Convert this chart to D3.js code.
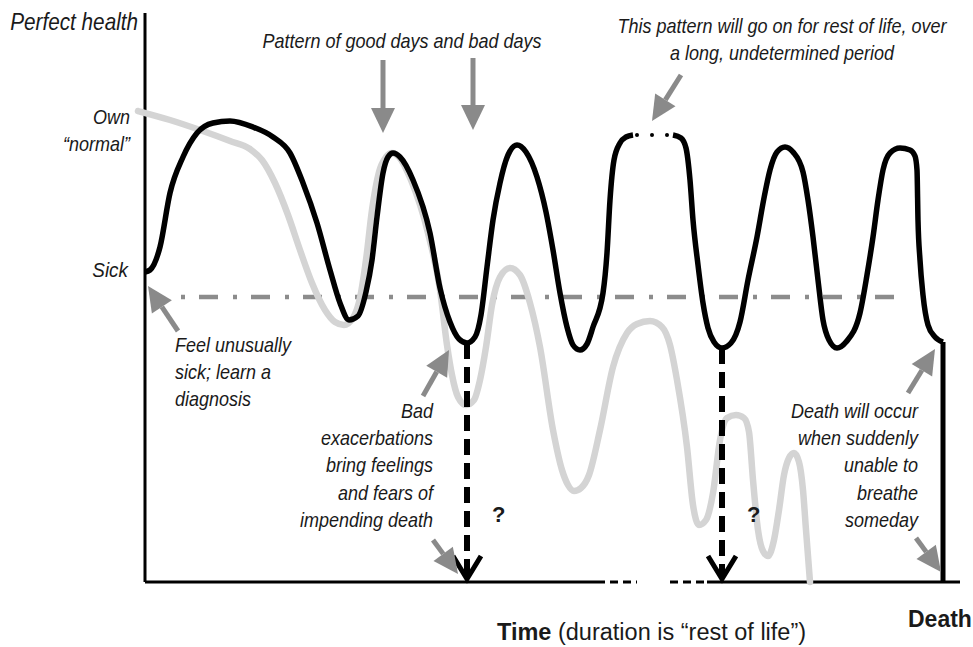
<!DOCTYPE html>
<html>
<head>
<script src="https://d3js.org/d3.v7.min.js"></script>
<style>
    body { margin: 0; background: #fff; }
    text { font-family: "Liberation Sans", Arial, sans-serif; fill: #1a1a1a; }
</style>
</head>
<body>
<svg width="973" height="647"></svg>
<script>
// time runs 0 .. 815 (until death), health runs 0 (death) .. 560 (perfect health)

// black line: the pattern of good days and bad days (two pieces, with a gap)
const goodBadA = [
    [0, 310], [5, 312], [15, 335], [25, 389], [38, 425], [52, 449], [68, 459], [85, 461],
    [108, 455], [128, 445], [145, 429], [158, 399], [172, 359], [185, 312], [195, 279],
    [204, 262], [213, 266], [221, 290], [227, 322], [232, 365], [238, 409], [243, 425],
    [248, 429], [255, 425], [268, 402], [285, 349], [295, 294], [305, 260], [314, 243],
    [322, 239], [330, 245], [336, 267], [342, 315], [348, 362], [355, 399], [363, 427],
    [372, 437], [381, 430], [392, 405], [401, 370], [408, 332], [415, 289], [422, 255],
    [428, 237], [435, 232], [442, 238], [448, 255], [458, 289], [462, 329], [465, 382],
    [469, 422], [475, 439], [481, 445], [488, 447]
];
const goodBadB = [
    [528, 447], [536, 444], [541, 434], [545, 402], [548, 362], [553, 317], [558, 279],
    [563, 254], [569, 240], [577, 234], [586, 239], [595, 260], [603, 302], [612, 345],
    [619, 384], [625, 412], [632, 430], [640, 435], [648, 430], [658, 410], [663, 382],
    [668, 345], [673, 302], [678, 262], [684, 242], [692, 234], [701, 240], [715, 269],
    [722, 307], [728, 345], [733, 382], [738, 412], [745, 429], [755, 434], [765, 432],
    [770, 426], [772, 412], [773, 362], [775, 322], [778, 287], [783, 257], [790, 245],
    [798, 240]
];
const gapDots = [492, 507, 522];
const gapLevel = 447;

// gray line: a declining course from own "normal"
const decline = [
    [-7, 471], [25, 462], [55, 452], [85, 441], [105, 433], [117, 422], [130, 399],
    [143, 367], [155, 332], [167, 299], [180, 272], [190, 260], [199, 257], [208, 264],
    [215, 284], [221, 322], [227, 372], [234, 410], [241, 425], [247, 429], [254, 425],
    [266, 402], [283, 349], [295, 292], [302, 237], [307, 207], [313, 185], [321, 177],
    [329, 182], [335, 202], [341, 235], [347, 277], [355, 305], [365, 314], [375, 307],
    [385, 279], [395, 235], [408, 152], [417, 112], [423, 97], [429, 91], [436, 94],
    [444, 107], [455, 152], [468, 215], [482, 249], [492, 258], [505, 261], [517, 255],
    [525, 237], [532, 202], [542, 135], [548, 77], [554, 57], [561, 62], [568, 89],
    [575, 142], [582, 164], [591, 167], [599, 164], [604, 150], [608, 102], [613, 52],
    [618, 31], [623, 26], [629, 42], [634, 72], [639, 107], [644, 124], [649, 129],
    [654, 120], [658, 92], [661, 52], [665, 0]
];

const sickLine = { from: 36, to: 760, level: 285 };
const suddenDrops = [ { t: 322, from: 239 }, { t: 577, from: 234 } ];
const deathTime = 798, deathFrom = 240;
const timeAxisPieces = [ [0, 452, "solid"], [452, 492, "dash"], [525, 562, "dash"], [562, 815, "solid"] ];

// gray arrows: tail time, tail health, tip time, tip health
const grayArrows = [
    [238, 522, 238, 449], [328, 524, 328, 452], [536, 507, 507, 461],
    [33, 251, 3, 296], [278, 186, 304, 232], [288, 42, 313, 8],
    [763, 189, 790, 233], [771, 44, 796, 10]
];

const yLabels = [
    { lines: ["Perfect health"], t: -7, h: 552, size: 23 },
    { lines: ["Own", "\u201cnormal\u201d"], t: -15, h: 458, size: 20 },
    { lines: ["Sick"], t: -17, h: 305, size: 21 }
];
const notes = [
    { lines: ["Pattern of good days and bad days"], t: 257, h: 534, anchor: "middle" },
    { lines: ["This pattern will go on for rest of life, over", "a long, undetermined period"], t: 637, h: 549, anchor: "middle" },
    { lines: ["Feel unusually", "sick; learn a", "diagnosis"], t: 30, h: 230, anchor: "start" },
    { lines: ["Bad", "exacerbations", "bring feelings", "and fears of", "impending death"], t: 288, h: 164, anchor: "end" },
    { lines: ["Death will occur", "when suddenly", "unable to", "breathe", "someday"], t: 773, h: 164, anchor: "end" }
];

const svg = d3.select("svg");
const x = d3.scaleLinear().domain([0, 800]).range([145, 945]);
const y = d3.scaleLinear().domain([0, 560]).range([582, 22]);

const line = d3.line().x(d => x(d[0])).y(d => y(d[1])).curve(d3.curveMonotoneX);

// axes
svg.append("line")
    .attr("x1", x(0)).attr("x2", x(0)).attr("y1", y(569)).attr("y2", y(0))
    .attr("stroke", "#000").attr("stroke-width", 3);
timeAxisPieces.forEach(p => {
    svg.append("line")
        .attr("x1", x(p[0])).attr("x2", x(p[1])).attr("y1", y(0)).attr("y2", y(0))
        .attr("stroke", "#000").attr("stroke-width", 3)
        .attr("stroke-dasharray", p[2] == "dash" ? "8,5" : null);
});

// dash-dot "sick" level
svg.append("line")
    .attr("x1", x(sickLine.from)).attr("x2", x(sickLine.to))
    .attr("y1", y(sickLine.level)).attr("y2", y(sickLine.level))
    .attr("stroke", "#8c8c8c").attr("stroke-width", 4.5)
    .attr("stroke-dasharray", "4,14,19,15");

// gray decline
svg.append("path").datum(decline)
    .attr("d", line)
    .attr("fill", "none").attr("stroke", "#d4d4d4").attr("stroke-width", 6.5)
    .attr("stroke-linecap", "round").attr("stroke-linejoin", "round");

// black pattern
[goodBadA, goodBadB].forEach(seg => {
    svg.append("path").datum(seg)
        .attr("d", line)
        .attr("fill", "none").attr("stroke", "#000").attr("stroke-width", 5.5)
        .attr("stroke-linecap", "butt").attr("stroke-linejoin", "round");
});
svg.selectAll(".gapdot").data(gapDots).join("circle")
    .attr("cx", d => x(d)).attr("cy", y(gapLevel)).attr("r", 2).attr("fill", "#000");

// death drop
svg.append("line")
    .attr("x1", x(deathTime)).attr("x2", x(deathTime)).attr("y1", y(deathFrom)).attr("y2", y(0))
    .attr("stroke", "#000").attr("stroke-width", 5);

// dashed drops with open heads
suddenDrops.forEach(d => {
    svg.append("line")
        .attr("x1", x(d.t)).attr("x2", x(d.t)).attr("y1", y(d.from)).attr("y2", y(4))
        .attr("stroke", "#000").attr("stroke-width", 6).attr("stroke-dasharray", "16,8");
    svg.append("path")
        .attr("d", `M${x(d.t) - 14},${y(26)} L${x(d.t)},${y(3)} L${x(d.t) + 14},${y(26)}`)
        .attr("fill", "none").attr("stroke", "#000").attr("stroke-width", 5);
    svg.append("text")
        .attr("x", x(d.t) + 25).attr("y", y(60))
        .attr("font-size", 22).attr("font-weight", "bold").text("?");
});

// gray arrows
grayArrows.forEach(a => {
    const x1 = x(a[0]), y1 = y(a[1]), x2 = x(a[2]), y2 = y(a[3]);
    const ang = Math.atan2(y2 - y1, x2 - x1);
    const L = 25, W = 12;
    const bx = x2 - L * Math.cos(ang), by = y2 - L * Math.sin(ang);
    const px = -Math.sin(ang) * W, py = Math.cos(ang) * W;
    svg.append("line")
        .attr("x1", x1).attr("y1", y1).attr("x2", bx).attr("y2", by)
        .attr("stroke", "#8a8a8a").attr("stroke-width", 5);
    svg.append("polygon")
        .attr("points", [[x2, y2], [bx + px, by + py], [bx - px, by - py]].join(" "))
        .attr("fill", "#8a8a8a");
});

// text, slightly condensed like the original face
function label(t, h, lines, anchor, size, k) {
    const g = svg.append("g")
        .attr("transform", `translate(${x(t)},${y(h)}) scale(${k},1)`);
    const txt = g.append("text")
        .attr("text-anchor", anchor)
        .attr("font-size", size)
        .attr("font-style", "italic");
    lines.forEach((s, i) => {
        txt.append("tspan").attr("x", 0).attr("dy", i == 0 ? 0 : 27.2).text(s);
    });
}
yLabels.forEach(l => label(l.t, l.h, l.lines, "end", l.size, 0.9));
notes.forEach(n => label(n.t, n.h, n.lines, n.anchor, 20, 0.9));

// bottom titles
const tt = svg.append("text")
    .attr("x", 497).attr("y", 640).attr("font-size", 23.5);
tt.append("tspan").attr("font-weight", "bold").text("Time");
tt.append("tspan").text(" (duration is \u201crest of life\u201d)");
svg.append("text")
    .attr("x", 908).attr("y", 627).attr("font-size", 23).attr("font-weight", "bold")
    .text("Death");
</script>
</body>
</html>
